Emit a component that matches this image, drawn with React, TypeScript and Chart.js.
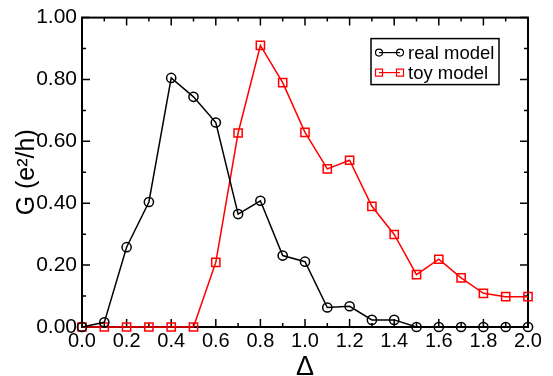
import React, { useEffect, useRef } from "react";
import { Chart, registerables } from "chart.js";

Chart.register(...registerables);

const deltas = [0, 0.1, 0.2, 0.3, 0.4, 0.5, 0.6, 0.7, 0.8, 0.9, 1.0, 1.1, 1.2, 1.3, 1.4, 1.5, 1.6, 1.7, 1.8, 1.9, 2.0];
const realModel = [0, 0.015, 0.258, 0.404, 0.805, 0.744, 0.661, 0.365, 0.408, 0.231, 0.211, 0.063, 0.067, 0.023, 0.023, 0, 0, 0, 0, 0, 0];
const toyModel = [0, 0, 0, 0, 0, 0, 0.209, 0.627, 0.91, 0.79, 0.629, 0.511, 0.539, 0.39, 0.299, 0.169, 0.219, 0.159, 0.109, 0.098, 0.098];
const seriesLabels = ["real model", "toy model"];
const xTitle = "Δ";
const yTitle = "G (e²/h)";

const FONT = "'Liberation Sans', Arial, Helvetica, sans-serif";

const frameAndTicks = {
  id: "frameAndTicks",
  beforeDatasetsDraw(chart: any) {
    const { ctx, chartArea: ca, scales } = chart;
    ctx.save();
    ctx.strokeStyle = "#000";
    ctx.lineWidth = 1.5;
    const xs = scales.x;
    for (const t of xs.ticks) {
      const px = xs.getPixelForValue(t.value);
      const major = Math.round(t.value * 10) % 2 === 0;
      const len = major ? 8 : 4;
      ctx.beginPath();
      ctx.moveTo(px, ca.bottom);
      ctx.lineTo(px, ca.bottom - len);
      ctx.moveTo(px, ca.top);
      ctx.lineTo(px, ca.top + len);
      ctx.stroke();
    }
    const ys = scales.y;
    for (const t of ys.ticks) {
      const py = ys.getPixelForValue(t.value);
      const major = Math.round(t.value * 10) % 2 === 0;
      const len = major ? 8 : 4;
      ctx.beginPath();
      ctx.moveTo(ca.left, py);
      ctx.lineTo(ca.left + len, py);
      ctx.moveTo(ca.right, py);
      ctx.lineTo(ca.right - len, py);
      ctx.stroke();
    }
    ctx.lineWidth = 2;
    ctx.strokeRect(ca.left, ca.top, ca.right - ca.left, ca.bottom - ca.top);
    ctx.restore();
  },
};

const customLegend = {
  id: "customLegend",
  afterDraw(chart: any) {
    const { ctx, chartArea: ca } = chart;
    const bx = ca.right - 157;
    const by = ca.top + 21;
    const bw = 128;
    const bh = 46;
    ctx.save();
    ctx.fillStyle = "#fff";
    ctx.fillRect(bx, by, bw, bh);
    ctx.strokeStyle = "#000";
    ctx.lineWidth = 1.5;
    ctx.strokeRect(bx, by, bw, bh);
    chart.data.datasets.forEach((ds: any, i: number) => {
      const cy = by + 14 + i * 20;
      const x1 = bx + 8;
      const x2 = bx + 29;
      ctx.strokeStyle = ds.borderColor;
      ctx.lineWidth = 1.2;
      ctx.beginPath();
      ctx.moveTo(x1, cy);
      ctx.lineTo(x2, cy);
      ctx.stroke();
      for (const cx of [x1, x2]) {
        ctx.beginPath();
        if (ds.pointStyle === "rect") {
          ctx.rect(cx - 3.5, cy - 3.5, 7, 7);
        } else {
          ctx.arc(cx, cy, 3.5, 0, Math.PI * 2);
        }
        ctx.stroke();
      }
      ctx.fillStyle = "#000";
      ctx.font = `18.5px ${FONT}`;
      ctx.textBaseline = "middle";
      ctx.textAlign = "left";
      ctx.fillText(ds.label, bx + 37, cy + 1);
    });
    ctx.restore();
  },
};

export default function App() {
  const ref = useRef<HTMLCanvasElement | null>(null);
  useEffect(() => {
    if (!ref.current) return;
    const chart = new Chart(ref.current, {
      type: "line",
      data: {
        datasets: [
          {
            label: seriesLabels[0],
            data: deltas.map((x, i) => ({ x, y: realModel[i] })),
            borderColor: "#000",
            backgroundColor: "rgba(0,0,0,0)",
            borderWidth: 1.5,
            pointStyle: "circle",
            pointRadius: 4.6,
            pointBorderWidth: 1.5,
            pointBackgroundColor: "rgba(0,0,0,0)",
            pointBorderColor: "#000",
            tension: 0,
          },
          {
            label: seriesLabels[1],
            data: deltas.map((x, i) => ({ x, y: toyModel[i] })),
            borderColor: "#ff0000",
            backgroundColor: "rgba(0,0,0,0)",
            borderWidth: 1.5,
            pointStyle: "rect",
            pointRadius: 5.8,
            pointBorderWidth: 1.5,
            pointBackgroundColor: "rgba(0,0,0,0)",
            pointBorderColor: "#ff0000",
            tension: 0,
          },
        ],
      },
      options: {
        responsive: false,
        animation: false,
        events: [],
        layout: { padding: { top: 15, right: 25, left: 0, bottom: 0 } },
        plugins: { legend: { display: false }, tooltip: { enabled: false } },
        datasets: { line: { clip: false } as any },
        scales: {
          x: {
            type: "linear",
            min: 0,
            max: 2,
            grid: { display: false, drawTicks: false },
            border: { display: false },
            ticks: {
              stepSize: 0.1,
              autoSkip: false,
              maxRotation: 0,
              padding: 2,
              color: "#000",
              font: { family: FONT, size: 20 },
              callback: (v: any) => (Math.round(Number(v) * 10) % 2 === 0 ? Number(v).toFixed(1) : ""),
            },
            title: {
              display: true,
              text: xTitle,
              color: "#000",
              font: { family: FONT, size: 27, lineHeight: 1 },
              padding: { top: 0, bottom: -5 },
            },
            afterFit: (s: any) => {
              s.height = 49;
            },
          },
          y: {
            type: "linear",
            min: 0,
            max: 1,
            grid: { display: false, drawTicks: false },
            border: { display: false },
            ticks: {
              stepSize: 0.1,
              autoSkip: false,
              padding: 5,
              color: "#000",
              font: { family: FONT, size: 21 },
              callback: (v: any) => (Math.round(Number(v) * 10) % 2 === 0 ? Number(v).toFixed(2) : ""),
            },
            title: {
              display: true,
              text: yTitle,
              color: "#000",
              font: { family: FONT, size: 25, lineHeight: 1 },
              padding: { top: 15, bottom: 0 },
            },
            afterFit: (s: any) => {
              s.width = 82;
            },
          },
        },
      },
      plugins: [frameAndTicks, customLegend],
    });
    return () => chart.destroy();
  }, []);
  return (
    <div style={{ position: "fixed", left: 0, top: 0, width: 553, height: 376, background: "#fff" }}>
      <canvas ref={ref} width={553} height={376} style={{ width: 553, height: 376, display: "block" }} />
    </div>
  );
}
